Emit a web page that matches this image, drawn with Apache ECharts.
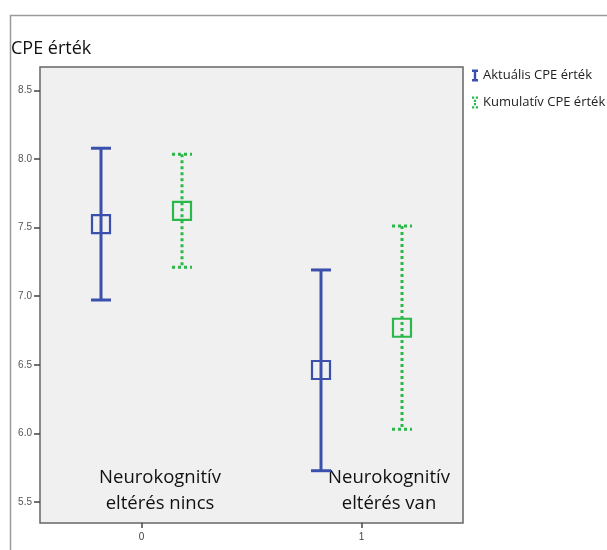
<!DOCTYPE html>
<html>
<head>
<meta charset="utf-8">
<script src="https://cdn.jsdelivr.net/npm/echarts@6/dist/echarts.min.js"></script>
<style>html,body{margin:0;padding:0;background:#fff}#c{width:607px;height:550px}</style>
</head>
<body>
<div id="c"></div>
<script>
// ---- data ----
const groupIndex = [0, 1];
const groupLabels = ['Neurokognitív\neltérés nincs', 'Neurokognitív\neltérés van'];
const xTickLabels = ['0', '1'];
const yTickValues = [5.5, 6.0, 6.5, 7.0, 7.5, 8.0, 8.5];
const seriesNames = ['Aktuális CPE érték', 'Kumulatív CPE érték'];
const actualLow  = [6.972, 5.728];
const actualMean = [7.525, 6.462];
const actualHigh = [8.078, 7.191];
const cumLow  = [7.210, 6.030];
const cumMean = [7.621, 6.770];
const cumHigh = [8.034, 7.512];

// ---- styles ----
const BLUE = '#3b50ad';
const GREEN = '#2bb84a';
const DODGE = 40.5;   // px
const CAP = 10;       // half cap width px
const SQ = 9;         // half square size px

function makeRender(color, dodge, dashed) {
  return function (params, api) {
    const gx = api.value(0);
    const pLow = api.coord([gx, api.value(1)]);
    const pMean = api.coord([gx, api.value(2)]);
    const pHigh = api.coord([gx, api.value(3)]);
    const x = pMean[0] + dodge;
    const ls = {stroke: color, lineWidth: 3, fill: null};
    if (dashed) { ls.lineDash = [3, 3]; }
    return {
      type: 'group',
      children: [
        {type: 'line', shape: {x1: x, y1: pHigh[1], x2: x, y2: pLow[1]}, style: ls},
        {type: 'line', shape: {x1: x - CAP, y1: pHigh[1], x2: x + CAP, y2: pHigh[1]}, style: ls},
        {type: 'line', shape: {x1: x - CAP, y1: pLow[1], x2: x + CAP, y2: pLow[1]}, style: ls},
        {type: 'rect', shape: {x: x - SQ, y: pMean[1] - SQ, width: 2 * SQ, height: 2 * SQ},
         style: {stroke: color, lineWidth: 2.2, fill: null}}
      ]
    };
  };
}

const actualData = groupIndex.map((g, i) => [g, actualLow[i], actualMean[i], actualHigh[i]]);
const cumData = groupIndex.map((g, i) => [g, cumLow[i], cumMean[i], cumHigh[i]]);

const chart = echarts.init(document.getElementById('c'), null, {renderer: 'canvas'});
chart.setOption({
  animation: false,
  backgroundColor: '#ffffff',
  textStyle: {fontFamily: 'Open Sans'},
  grid: {left: 40, right: 144, top: 67, bottom: 27, show: true,
         backgroundColor: '#f0f0f0', borderColor: '#666666', borderWidth: 1.5},
  xAxis: {
    type: 'value', min: -0.4614, max: 1.4614,
    splitLine: {show: false},
    axisLine: {show: false, onZero: false},
    axisTick: {show: true, customValues: groupIndex, length: 5, lineStyle: {color: '#444', width: 1.5}},
    axisLabel: {customValues: groupIndex, formatter: v => xTickLabels[Math.round(v)],
                color: '#444', fontSize: 10, margin: 9, fontFamily: 'Liberation Sans'}
  },
  yAxis: {
    type: 'value', min: 5.347, max: 8.67,
    splitLine: {show: false},
    axisLine: {show: false, onZero: false},
    axisTick: {show: true, customValues: yTickValues, length: 6, lineStyle: {color: '#444', width: 1.5}},
    axisLabel: {customValues: yTickValues, formatter: v => v.toFixed(1),
                color: '#555', fontSize: 10, margin: 8, fontFamily: 'Liberation Sans'}
  },
  legend: {
    orient: 'vertical', left: 467, top: 64, itemGap: 14,
    itemWidth: 6, itemHeight: 12,
    textStyle: {fontSize: 13, color: '#222', fontFamily: 'Open Sans'},
    data: [
      {name: seriesNames[0], icon: 'path://M0,0H6V2.5H4.2V9.5H6V12H0V9.5H1.8V2.5H0Z', itemStyle: {color: BLUE}},
      {name: seriesNames[1], icon: 'path://M0,0H2.2V2.2H0Z M3.8,0H6V2.2H3.8Z M1.9,3.2H4.1V5.4H1.9Z M1.9,6.6H4.1V8.8H1.9Z M0,9.8H2.2V12H0Z M3.8,9.8H6V12H3.8Z', itemStyle: {color: GREEN}}
    ]
  },
  graphic: [
    {type: 'rect', left: 8, top: 13, shape: {x: 0, y: 0, width: 700, height: 600},
     style: {fill: null, stroke: '#9a9a9a', lineWidth: 1.5}, silent: true},
    {type: 'text', left: 11, top: 40,
     style: {text: 'CPE érték', fontSize: 18, fill: '#111', fontFamily: 'Open Sans'}},
    {type: 'text', x: 160, y: 465,
     style: {text: groupLabels[0], fontSize: 18.5, lineHeight: 26, fill: '#111', align: 'center', fontFamily: 'Open Sans'}},
    {type: 'text', x: 389, y: 465,
     style: {text: groupLabels[1], fontSize: 18.5, lineHeight: 26, fill: '#111', align: 'center', fontFamily: 'Open Sans'}}
  ],
  series: [
    {name: seriesNames[0], type: 'custom', renderItem: makeRender(BLUE, -DODGE, false),
     encode: {x: 0, y: [1, 2, 3]}, data: actualData, itemStyle: {color: BLUE}},
    {name: seriesNames[1], type: 'custom', renderItem: makeRender(GREEN, DODGE, true),
     encode: {x: 0, y: [1, 2, 3]}, data: cumData, itemStyle: {color: GREEN}}
  ]
});
</script>
</body>
</html>
